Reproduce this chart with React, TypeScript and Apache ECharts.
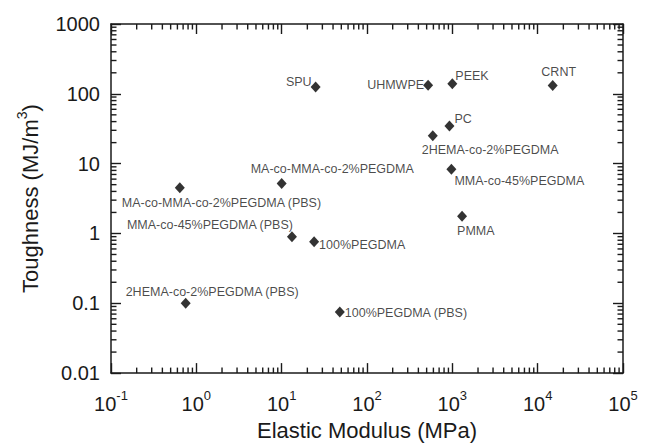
import React, { useEffect, useRef } from "react";
import * as echarts from "echarts";

const materials = [
  "SPU",
  "UHMWPE",
  "PEEK",
  "CRNT",
  "PC",
  "2HEMA-co-2%PEGDMA",
  "MMA-co-45%PEGDMA",
  "PMMA",
  "MA-co-MMA-co-2%PEGDMA",
  "MA-co-MMA-co-2%PEGDMA (PBS)",
  "MMA-co-45%PEGDMA (PBS)",
  "100%PEGDMA",
  "2HEMA-co-2%PEGDMA (PBS)",
  "100%PEGDMA (PBS)",
];
const elasticModulus = [25, 520, 1000, 15000, 925, 590, 975, 1300, 10, 0.64, 13.2, 24, 0.75, 48];
const toughness = [125, 133, 139, 132, 34.5, 25, 8.3, 1.77, 5.2, 4.5, 0.9, 0.76, 0.1, 0.075];

const xMin = 0.1;
const xMax = 100000;
const yMin = 0.01;
const yMax = 1000;
const xDecades = [-1, 0, 1, 2, 3, 4];
const yDecades = [-2, -1, 0, 1, 2];
const minorMultipliers = [2, 3, 4, 5, 6, 7, 8, 9];

// label placement (style, not data)
const labelPlacement: { align: string; offset: [number, number] }[] = [
  { align: "right", offset: [-4, -5] },
  { align: "right", offset: [-4, 0] },
  { align: "left", offset: [3, -8] },
  { align: "center", offset: [6, -13] },
  { align: "left", offset: [5, -7] },
  { align: "left", offset: [-11, 14] },
  { align: "left", offset: [3, 12] },
  { align: "left", offset: [-5, 15] },
  { align: "left", offset: [-31, -14] },
  { align: "left", offset: [-58, 15] },
  { align: "left", offset: [-165, -12] },
  { align: "left", offset: [5, 3] },
  { align: "left", offset: [-60, -11] },
  { align: "left", offset: [5, 1] },
];

const FONT = "'Liberation Sans', Arial, Helvetica, sans-serif";
const INK = "#1a1a1a";

export default function App() {
  const ref = useRef<HTMLDivElement>(null);
  useEffect(() => {
    document.body.style.margin = "0";
    const chart = echarts.init(ref.current!, null, { renderer: "svg" });

    const xMinorTicks: number[][] = [];
    xDecades.forEach((d) =>
      minorMultipliers.forEach((m) => xMinorTicks.push([m * Math.pow(10, d), 1]))
    );
    const yMinorTicks: number[][] = [];
    yDecades.forEach((d) =>
      minorMultipliers.forEach((m) => yMinorTicks.push([1, m * Math.pow(10, d)]))
    );

    const xFmt = (v: number) => {
      const e = Math.round(Math.log10(v));
      return `{b|10}{s|${e}}`;
    };
    const yFmt = (v: number) => {
      const e = Math.round(Math.log10(v));
      if (e >= 0) return String(Math.pow(10, e));
      return "0." + "0".repeat(-e - 1) + "1";
    };

    const minorLen = 5.5;
    const mkStyle = () => ({ stroke: INK, lineWidth: 1.4 });

    const xAxisBase = () => ({
      type: "log",
      logBase: 10,
      min: xMin,
      max: xMax,
      splitNumber: 6,
      splitLine: { show: false },
      axisLine: { show: true, onZero: false, lineStyle: { color: INK, width: 1.5 } },
      axisTick: { show: true, inside: true, length: 10, lineStyle: { color: INK, width: 1.4 } },
    });
    const yAxisBase = () => ({
      type: "log",
      logBase: 10,
      min: yMin,
      max: yMax,
      splitNumber: 5,
      splitLine: { show: false },
      axisLine: { show: true, onZero: false, lineStyle: { color: INK, width: 1.5 } },
      axisTick: { show: true, inside: true, length: 10, lineStyle: { color: INK, width: 1.4 } },
    });

    const option: any = {
      animation: false,
      backgroundColor: "#fff",
      grid: { left: 111, top: 24, right: 24, bottom: 64 },
      xAxis: [
        {
          ...xAxisBase(),
          position: "bottom",
          name: "Elastic Modulus (MPa)",
          nameLocation: "middle",
          nameGap: 41,
          nameTextStyle: { fontSize: 22, color: INK, fontFamily: FONT },
          axisLabel: {
            show: true,
            margin: 16,
            formatter: xFmt,
            color: INK,
            rich: {
              b: { fontSize: 20, lineHeight: 30, fontFamily: FONT, color: INK },
              s: { fontSize: 13, lineHeight: 8, verticalAlign: "top", fontFamily: FONT, color: INK },
            },
          },
        },
        {
          ...xAxisBase(),
          position: "top",
          axisLabel: { show: false },
        },
      ],
      yAxis: [
        {
          ...yAxisBase(),
          position: "left",
          name: "{b|Toughness (MJ/m}{s|3}{b|)}",
          nameLocation: "middle",
          nameGap: 66,
          nameRotate: 90,
          nameTextStyle: {
            color: INK,
            fontFamily: FONT,
            rich: {
              b: { fontSize: 22, lineHeight: 30, fontFamily: FONT, color: INK },
              s: { fontSize: 14, lineHeight: 8, verticalAlign: "top", fontFamily: FONT, color: INK },
            },
          },
          axisLabel: {
            show: true,
            margin: 11,
            formatter: yFmt,
            fontSize: 20,
            color: INK,
            fontFamily: FONT,
          },
        },
        {
          ...yAxisBase(),
          position: "right",
          axisLabel: { show: false },
        },
      ],
      series: [
        {
          type: "custom",
          silent: true,
          clip: false,
          xAxisIndex: 0,
          yAxisIndex: 0,
          data: xMinorTicks,
          renderItem: (params: any, api: any) => {
            const cs = params.coordSys;
            const x = api.coord([api.value(0), api.value(1)])[0];
            const bottom = cs.y + cs.height;
            return {
              type: "group",
              children: [
                { type: "line", shape: { x1: x, y1: bottom, x2: x, y2: bottom - minorLen }, style: mkStyle() },
                { type: "line", shape: { x1: x, y1: cs.y, x2: x, y2: cs.y + minorLen }, style: mkStyle() },
              ],
            };
          },
        },
        {
          type: "custom",
          silent: true,
          clip: false,
          xAxisIndex: 0,
          yAxisIndex: 0,
          data: yMinorTicks,
          renderItem: (params: any, api: any) => {
            const cs = params.coordSys;
            const y = api.coord([api.value(0), api.value(1)])[1];
            const right = cs.x + cs.width;
            return {
              type: "group",
              children: [
                { type: "line", shape: { x1: cs.x, y1: y, x2: cs.x + minorLen, y2: y }, style: mkStyle() },
                { type: "line", shape: { x1: right, y1: y, x2: right - minorLen, y2: y }, style: mkStyle() },
              ],
            };
          },
        },
        {
          type: "scatter",
          xAxisIndex: 0,
          yAxisIndex: 0,
          symbol: "diamond",
          symbolSize: [10, 11],
          itemStyle: { color: "#000" },
          data: materials.map((name, i) => ({
            name,
            value: [elasticModulus[i], toughness[i]],
            label: {
              show: true,
              position: "inside",
              align: labelPlacement[i].align,
              verticalAlign: "middle",
              offset: labelPlacement[i].offset,
              formatter: name,
              fontSize: 12.5,
              color: INK,
              fontFamily: FONT,
            },
          })),
        },
      ],
    };

    chart.setOption(option);
    return () => chart.dispose();
  }, []);
  return <div ref={ref} style={{ width: 647, height: 446 }} />;
}
